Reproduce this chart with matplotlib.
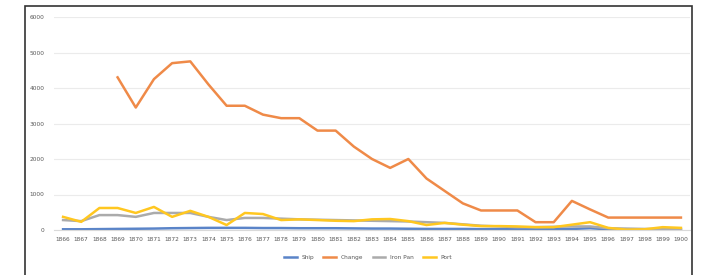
import numpy as np
import matplotlib.pyplot as plt
from matplotlib.patches import Rectangle

# categories (years) and series values
years = [str(y) for y in range(1866, 1901)]
series_names = ["Ship", "Change", "Iron Pan", "Port"]

ship = [20, 20, 25, 30, 35, 40, 50, 55, 60, 60, 60, 55, 55, 50, 50, 50, 45, 40,
        40, 35, 30, 30, 30, 25, 25, 25, 20, 20, 30, 50, 20, 15, 10, 10, 10]
change = [np.nan, np.nan, np.nan, 4300, 3450, 4250, 4700, 4750, 4100, 3500, 3500,
          3250, 3150, 3150, 2800, 2800, 2350, 2000, 1750, 2000, 1450, 1100, 750,
          550, 550, 550, 220, 220, 820, 580, 350, 350, 350, 350, 350]
iron = [280, 250, 420, 420, 370, 480, 480, 480, 370, 280, 340, 340, 320, 300, 290,
        280, 270, 260, 250, 240, 220, 200, 160, 120, 100, 80, 80, 90, 100, 100,
        50, 40, 30, 30, 30]
port = [370, 230, 620, 620, 480, 650, 370, 540, 370, 140, 480, 450, 280, 300, 280,
        260, 250, 300, 310, 250, 140, 200, 150, 110, 110, 100, 80, 80, 150, 220,
        60, 10, 20, 80, 60]

colors = ["#5A84C8", "#EF8A48", "#ABABAB", "#FFC720"]

fig = plt.figure(figsize=(7.08, 2.75), dpi=100)
W, H = 708, 275

# outer frame (cut off at the bottom like the reference)
fig.patches.append(Rectangle((25 / W, -0.05), 667 / W, 1.05 - 6 / H,
                             transform=fig.transFigure, fill=False,
                             edgecolor="#333333", linewidth=1.2))

ax = fig.add_axes([54 / W, 45 / H, 636 / W, 213 / H])
x = np.arange(len(years))
for vals, name, c in zip([ship, change, iron, port], series_names, colors):
    ax.plot(x, vals, color=c, linewidth=1.8, label=name, solid_joinstyle="round")

ax.set_xlim(-0.5, len(years) - 0.5)
ax.set_ylim(0, 6000)
ax.set_yticks(range(0, 6001, 1000))
ax.set_xticks(x)
ax.set_xticklabels(years)
ax.tick_params(axis="both", length=0, labelsize=4.2, labelcolor="#595959")
ax.tick_params(axis="y", pad=7)
ax.tick_params(axis="x", pad=5)
ax.grid(axis="y", color="#EBEBEB", linewidth=0.8)
for s in ax.spines.values():
    s.set_visible(False)
ax.spines["bottom"].set_visible(True)
ax.spines["bottom"].set_color("#D9D9D9")
ax.set_axisbelow(True)

ax.legend(loc="center", bbox_to_anchor=(368 / W, 18 / H), bbox_transform=fig.transFigure,
          ncol=4, frameon=False, fontsize=4.2, handlelength=2.2, columnspacing=1.6,
          labelcolor="#595959")

fig.savefig("out.png", dpi=100)
